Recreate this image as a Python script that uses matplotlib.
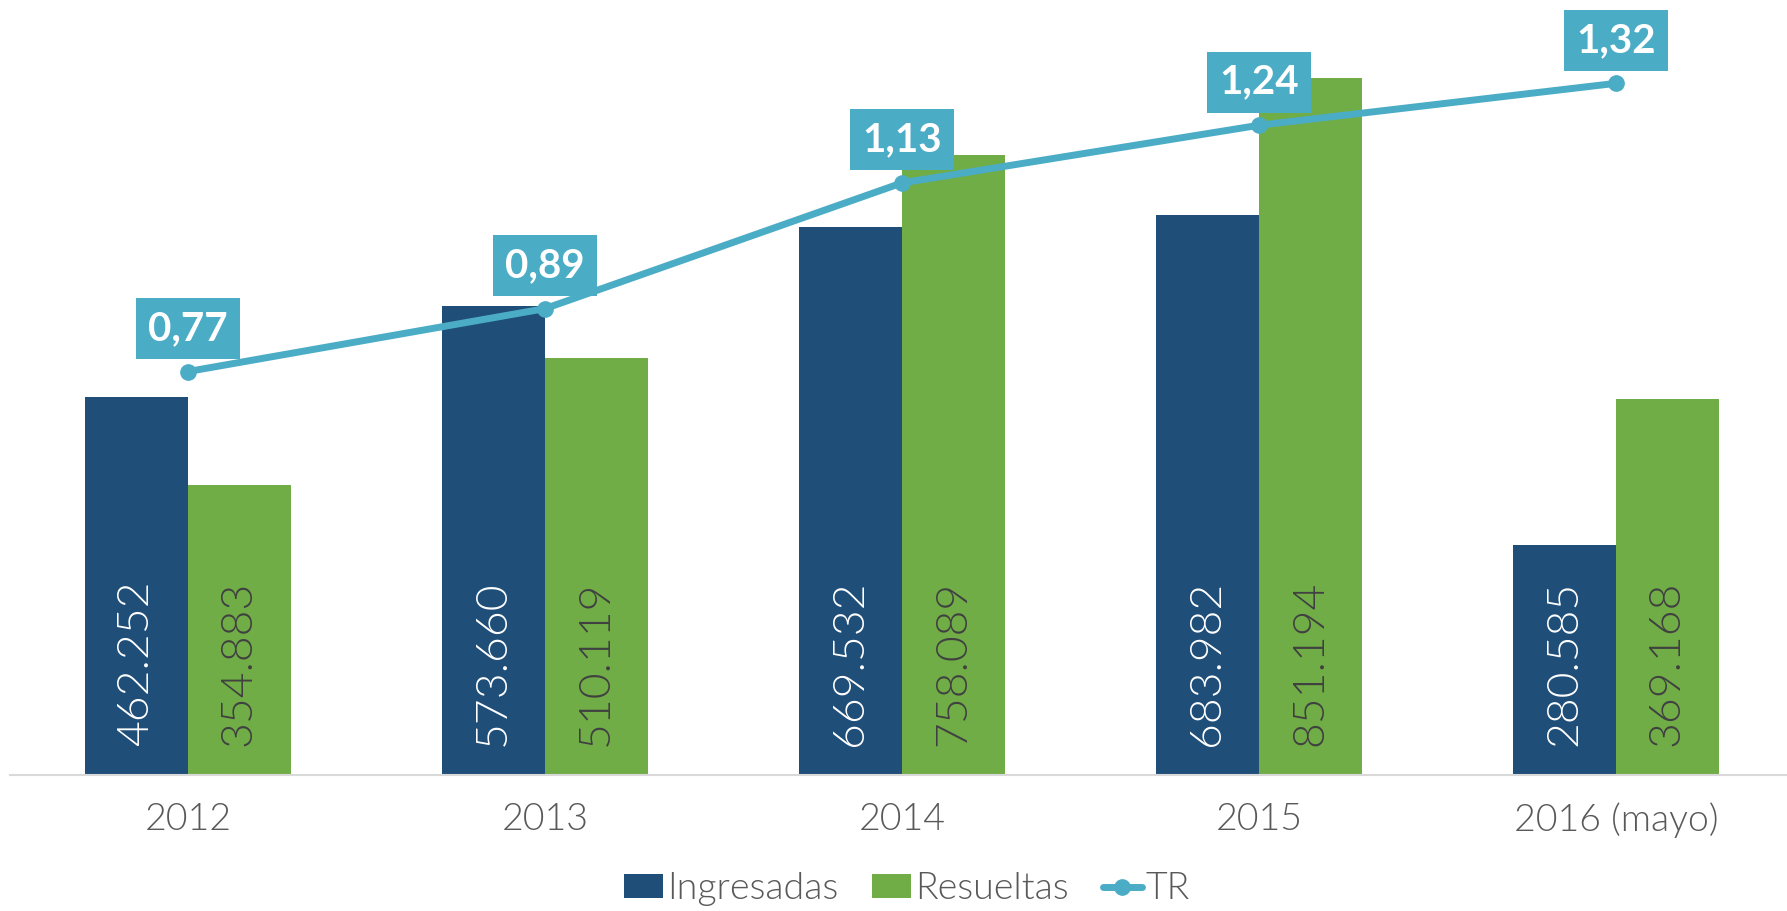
import numpy as np
import matplotlib.pyplot as plt

years = ["2012", "2013", "2014", "2015", "2016 (mayo)"]
ingresadas = [462252, 573660, 669532, 683982, 280585]
# bar heights as drawn (2016 Resueltas bar is drawn taller than its label)
resueltas = [354883, 510119, 758089, 851194, 459600]
tr = [0.77, 0.89, 1.13, 1.24, 1.32]

ing_labels = ["462.252", "573.660", "669.532", "683.982", "280.585"]
res_labels = ["354.883", "510.119", "758.089", "851.194", "369.168"]
tr_labels = ["0,77", "0,89", "1,13", "1,24", "1,32"]

c_ing = "#1F4E79"
c_res = "#70AD47"
c_tr = "#4BACC6"

plt.rcParams["font.family"] = ["Lato", "DejaVu Sans"]

fig = plt.figure(figsize=(17.87, 9.11), dpi=100)
ax = fig.add_axes([9.5 / 1787, 136 / 911, 1785 / 1787, 775 / 911])
ax2 = ax.twinx()

x = np.arange(len(years))
w = 0.288
b1 = ax.bar(x - w / 2, ingresadas, w, color=c_ing, label="Ingresadas")
b2 = ax.bar(x + w / 2, resueltas, w, color=c_res, label="Resueltas")

for i in range(len(years)):
    ax.text(x[i] - w / 2, 36000, ing_labels[i], rotation=90, ha="center", va="bottom",
            color="white", fontsize=32, fontweight=300)
    ax.text(x[i] + w / 2, 36000, res_labels[i], rotation=90, ha="center", va="bottom",
            color="#404040", fontsize=32, fontweight=300)

ln, = ax2.plot(x, tr, color=c_tr, lw=5, marker="o", ms=11, label="TR",
               solid_capstyle="round")
for i in range(len(years)):
    ax2.annotate(tr_labels[i], (x[i], tr[i]), xytext=(0, 31), textcoords="offset points",
                 ha="center", va="center", color="white", fontsize=29, fontweight="bold",
                 bbox=dict(boxstyle="square,pad=0.3", fc=c_tr, ec="none"))

ax.set_xlim(-0.5, len(years) - 0.5)
ax.set_ylim(0, 947000)
ax2.set_ylim(0, 775 / 524)

for a in (ax, ax2):
    for s in ("top", "right", "left"):
        a.spines[s].set_visible(False)
    a.set_yticks([])
ax2.spines["bottom"].set_visible(False)
ax.spines["bottom"].set_color("#D9D9D9")
ax.spines["bottom"].set_linewidth(1.5)

ax.set_xticks(x)
ax.set_xticklabels(years, fontsize=27, color="#595959", fontweight=300)
ax.tick_params(axis="x", length=0, pad=20)

fig.legend(handles=[b1, b2, ln], loc="center", bbox_to_anchor=(907 / 1787, 0.024),
           ncol=3, frameon=False, labelcolor="#595959",
           prop={"weight": 300, "size": 27},
           handlelength=1.05, handleheight=0.6, handletextpad=0.1, columnspacing=0.9)

fig.savefig("out.png", dpi=100)
